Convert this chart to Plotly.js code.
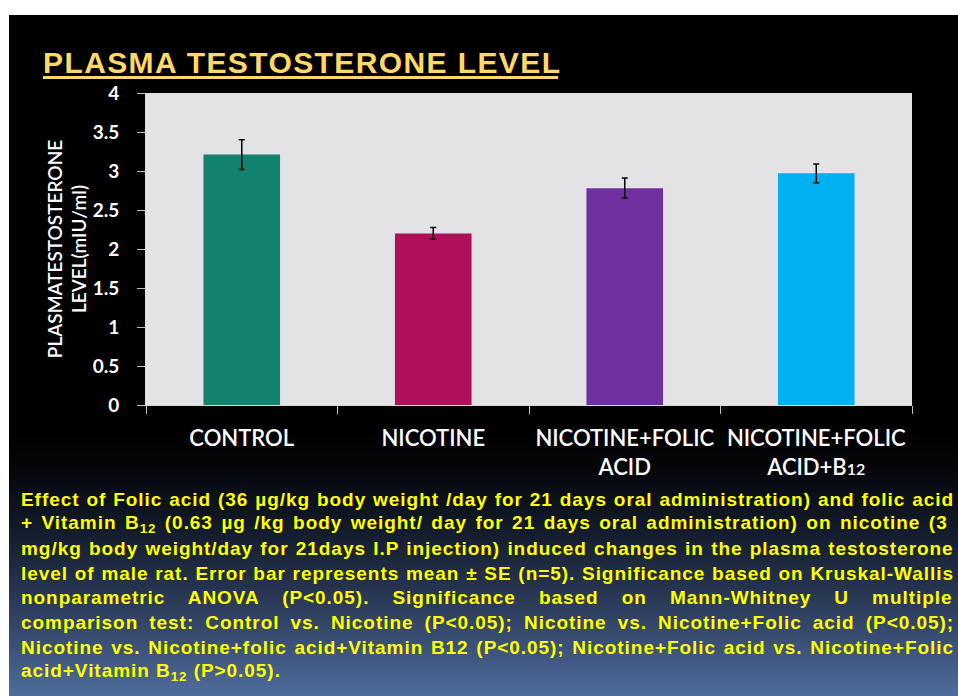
<!DOCTYPE html>
<html>
<head>
<meta charset="utf-8">
<script src="https://cdn.plot.ly/plotly-3.0.1.min.js"></script>
<style>
  html, body { margin: 0; padding: 0; background: #ffffff; width: 958px; height: 696px; overflow: hidden; }
  #slide { position: absolute; left: 9px; top: 15px; width: 949px; height: 681px;
    background: linear-gradient(to bottom, #000000 0%, #000000 61%, #05070b 67%, #121a29 75%, #25334e 84%, #3a4f75 92%, #4f6d9c 100%); }
  #chart { position: absolute; left: 0; top: 0; width: 958px; height: 696px; }
</style>
</head>
<body>
<div id="slide"></div>
<div id="chart"></div>
<script>
// ---- data ----
const categories = ["CONTROL", "NICOTINE", "NICOTINE+FOLIC<br>ACID", "NICOTINE+FOLIC<br>ACID+B<span style=\"font-size:16px\">12</span>"];
const means = [3.21, 2.20, 2.78, 2.97];
const se = [0.19, 0.075, 0.13, 0.12];
const barColors = ["#13836F", "#B0105A", "#7030A0", "#00B0F0"];
const yTickVals = [0, 0.5, 1, 1.5, 2, 2.5, 3, 3.5, 4];
const titleText = "PLASMA TESTOSTERONE LEVEL";
const yTitle = "PLASMATESTOSTERONE<br>LEVEL(mIU/ml)";
const captionLines = [
  "Effect of Folic acid (36 µg/kg body weight /day for 21 days oral administration) and folic acid",
  "+ Vitamin B<sub>12</sub> (0.63 µg /kg body weight/ day for 21 days oral administration) on nicotine (3",
  "mg/kg body weight/day for 21days I.P injection) induced changes in the plasma testosterone",
  "level of male rat. Error bar represents mean ± SE (n=5). Significance based on Kruskal-Wallis",
  "nonparametric ANOVA (P&lt;0.05). Significance based on Mann-Whitney U multiple",
  "comparison test: Control vs. Nicotine (P&lt;0.05); Nicotine vs. Nicotine+Folic acid (P&lt;0.05);",
  "Nicotine vs. Nicotine+folic acid+Vitamin B12 (P&lt;0.05); Nicotine+Folic acid vs. Nicotine+Folic",
  "acid+Vitamin B<sub>12</sub> (P&gt;0.05)."
];

// ---- layout geometry (pixels) ----
const FW = 958, FH = 696;
const L = 146, R = 912, T = 93, B = 405;
const px = x => (x - L) / (R - L);
const py = y => (B - y) / (B - T);

const CAP_FONT = "Liberation Sans";
const CAP_SIZE = 19, CAP_LS = 0.95;
const CAP_X = 21, CAP_END = 954;
const canvas = document.createElement("canvas");
const ctx = canvas.getContext("2d");
ctx.font = "bold " + CAP_SIZE + "px '" + CAP_FONT + "'";
function plainText(s) {
  return s.replace(/<sub>(.*?)<\/sub>/g, "$1").replace(/<[^>]*>/g, "")
          .replace(/&lt;/g, "<").replace(/&gt;/g, ">");
}
function wordSpacing(s) {
  const t = plainText(s);
  const w = ctx.measureText(t).width + t.length * CAP_LS;
  const spaces = (t.match(/ /g) || []).length;
  if (!spaces) return 0;
  return (CAP_END - CAP_X - w) / spaces;
}

const annotations = [];
annotations.push({
  text: "<b><span style=\"letter-spacing:1.4px\">" + titleText + "</span></b>", xref: "paper", yref: "paper",
  x: px(41), y: py(63), xanchor: "left", yanchor: "middle", showarrow: false,
  font: { family: "Liberation Sans, Arial, sans-serif", size: 30, color: "#FFD966" }
});
const capStart = 499, capStep = 24.7;
captionLines.forEach((ln, i) => {
  const ws = (i < captionLines.length - 1) ? wordSpacing(ln) : 0;
  annotations.push({
    text: "<b><span style=\"letter-spacing:" + CAP_LS + "px;word-spacing:" + ws.toFixed(2) + "px\">" + ln + "</span></b>",
    xref: "paper", yref: "paper",
    x: px(CAP_X - 2), y: py(capStart + i * capStep), xanchor: "left", yanchor: "middle", showarrow: false,
    font: { family: CAP_FONT + ", Arial, sans-serif", size: CAP_SIZE, color: "#FFFF00" }
  });
});

const trace = {
  type: "bar",
  x: categories,
  y: means,
  width: 0.4,
  marker: { color: barColors, line: { width: 0 } },
  error_y: { type: "data", array: se, visible: true, color: "#000000", thickness: 1.5, width: 3 },
  hoverinfo: "none"
};

const layout = {
  width: FW, height: FH,
  margin: { l: L, r: FW - R, t: T, b: FH - B },
  paper_bgcolor: "rgba(0,0,0,0)",
  plot_bgcolor: "#e3e3e6",
  showlegend: false,
  font: { family: "Lato, sans-serif", color: "#ffffff" },
  xaxis: {
    type: "category",
    tickson: "boundaries",
    ticks: "outside", ticklen: 8, tickcolor: "#bfbfbf", tickwidth: 1,
    showline: true, linecolor: "#d9d9d9", linewidth: 1,
    showgrid: false, zeroline: false,
    ticklabelstandoff: 14,
    tickfont: { family: "Lato, sans-serif", size: 22, color: "#ffffff", weight: 600 }
  },
  yaxis: {
    range: [0, 4],
    tickvals: yTickVals,
    ticks: "outside", ticklen: 8, tickcolor: "#bfbfbf", tickwidth: 1,
    showline: true, linecolor: "#d9d9d9", linewidth: 1,
    showgrid: false, zeroline: false,
    ticklabelstandoff: 14,
    tickfont: { family: "Lato, sans-serif", size: 19, color: "#ffffff", weight: 700 },
    title: { text: yTitle, standoff: 0, font: { family: "Lato, sans-serif", size: 19, color: "#ffffff", weight: 600 } }
  },
  shapes: [{
    type: "rect", xref: "paper", yref: "paper",
    x0: px(43), x1: px(558), y0: py(79), y1: py(76),
    fillcolor: "#FFD966", line: { width: 0 }
  }],
  annotations: annotations
};

Plotly.newPlot("chart", [trace], layout, { displayModeBar: false, staticPlot: true });
</script>
</body>
</html>
